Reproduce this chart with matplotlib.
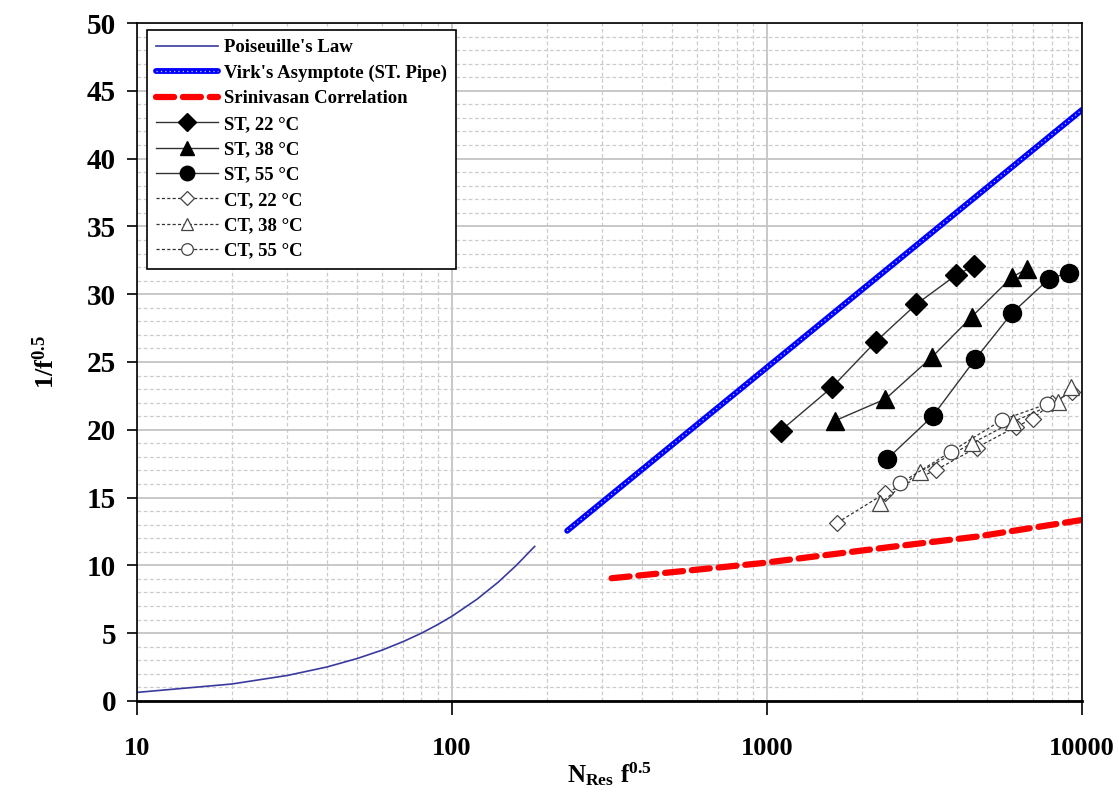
import matplotlib
matplotlib.use("Agg")
import matplotlib.pyplot as plt
from matplotlib.ticker import FixedLocator, NullFormatter, MultipleLocator

plt.rcParams["font.family"] = ["Liberation Serif", "DejaVu Serif"]
plt.rcParams["font.weight"] = "bold"
plt.rcParams["mathtext.fontset"] = "custom"
plt.rcParams["mathtext.rm"] = "Liberation Serif:bold"
plt.rcParams["mathtext.bf"] = "Liberation Serif:bold"
plt.rcParams["mathtext.it"] = "Liberation Serif:bold"

# --- data ---
pois_x = [10, 20, 30, 40, 50, 60, 70, 80, 90, 100, 120, 140, 160, 183]
pois_y = [0.63, 1.25, 1.88, 2.5, 3.13, 3.75, 4.38, 5.0, 5.63, 6.25, 7.5, 8.75, 10.0, 11.4]

virk_x = [232, 10000]
virk_y = [12.55, 43.6]

srin_x = [321, 950, 2512, 4632, 10000]
srin_y = [9.05, 10.15, 11.38, 12.12, 13.35]

st22_x = [1105, 1612, 2213, 2978, 3972, 4540]
st22_y = [19.93, 23.16, 26.5, 29.26, 31.39, 32.08]
st38_x = [1644, 2375, 3348, 4467, 5983, 6674]
st38_y = [20.67, 22.27, 25.39, 28.34, 31.25, 31.86]
st55_x = [2399, 3365, 4578, 5983, 7840, 9075]
st55_y = [17.82, 21.04, 25.2, 28.59, 31.12, 31.59]

ct22_x = [1672, 2369, 3440, 4632, 6150, 6965, 8031, 9296]
ct22_y = [13.15, 15.32, 17.04, 18.69, 20.21, 20.81, 21.98, 22.79]
ct38_x = [2284, 3060, 4466, 6052, 8390, 9228]
ct38_y = [14.58, 16.91, 19.0, 20.6, 22.05, 23.16]
ct55_x = [2643, 3838, 5560, 7743]
ct55_y = [16.04, 18.39, 20.72, 21.9]

fig = plt.figure(figsize=(11.19, 7.96), dpi=100)
ax = fig.add_axes([0.1224, 0.1194, 0.8446, 0.8517])

h_pois, = ax.plot(pois_x, pois_y, color="#3a3a9e", lw=1.2)
v1, = ax.plot(virk_x, virk_y, color="#0000ff", lw=4.2, solid_capstyle="round")
v2, = ax.plot(virk_x, virk_y, color="white", lw=0.9, ls=(0, (1, 2.5)), alpha=0.8)
h_srin, = ax.plot(srin_x, srin_y, color="#ff0000", lw=4.5, dashes=(2.9, 1.4),
                  dash_capstyle="round")

st_kw = dict(color="#333333", lw=1.0, markerfacecolor="black", markeredgecolor="black")
h1, = ax.plot(st22_x, st22_y, marker="D", ms=11, **st_kw)
h2, = ax.plot(st38_x, st38_y, marker="^", ms=13, **st_kw)
h3, = ax.plot(st55_x, st55_y, marker="o", ms=13, **st_kw)

ct_kw = dict(color="#333333", lw=0.9, ls=(0, (2.5, 1.8)), markerfacecolor="white",
             markeredgecolor="#444444", markeredgewidth=0.9)
h4, = ax.plot(ct22_x, ct22_y, marker="D", ms=8.5, **ct_kw)
h5, = ax.plot(ct38_x, ct38_y, marker="^", ms=11, **ct_kw)
h6, = ax.plot(ct55_x, ct55_y, marker="o", ms=10.5, **ct_kw)

ax.set_xscale("log")
ax.set_xlim(10, 10000)
ax.set_ylim(0, 50)
ax.yaxis.set_major_locator(MultipleLocator(5))
ax.yaxis.set_minor_locator(MultipleLocator(1))
ax.xaxis.set_major_locator(FixedLocator([10, 100, 1000, 10000]))
ax.set_xticklabels(["10", "100", "1000", "10000"])
ax.xaxis.set_minor_formatter(NullFormatter())

ax.grid(True, which="major", color="#c4c4c4", lw=1.3, ls="-")
ax.grid(True, which="minor", color="#cccccc", lw=0.9, ls=(0, (3, 2)))
ax.set_axisbelow(True)

ax.tick_params(axis="x", which="major", direction="out", length=10, width=1.2,
               pad=16, labelsize=19)
ax.tick_params(axis="y", which="major", direction="out", length=7, width=1.2,
               pad=8, labelsize=21)
ax.tick_params(which="minor", length=0)
for lab in ax.get_xticklabels() + ax.get_yticklabels():
    lab.set_fontweight("bold")

for side in ["top", "right", "left"]:
    ax.spines[side].set_color("black")
    ax.spines[side].set_linewidth(1.2)
ax.spines["bottom"].set_linewidth(2.0)

ax.set_ylabel(r"$\mathbf{1/f^{0.5}}$", fontsize=19, labelpad=20)
ax.set_xlabel(r"$\mathbf{N_{Res}\ f^{0.5}}$", fontsize=18, labelpad=0)

handles = [h_pois, (v1, v2), h_srin, h1, h2, h3, h4, h5, h6]
labels = ["Poiseuille's Law", "Virk's Asymptote (ST. Pipe)", "Srinivasan Correlation",
          "ST, 22 °C", "ST, 38 °C", "ST, 55 °C", "CT, 22 °C", "CT, 38 °C", "CT, 55 °C"]
leg = ax.legend(handles, labels, loc="upper left", bbox_to_anchor=(0.0106, 0.9897),
                borderaxespad=0, fontsize=13.5, frameon=True, fancybox=False,
                edgecolor="black", framealpha=1, numpoints=1, handlelength=3.3,
                handletextpad=0.3, labelspacing=0.44, borderpad=0.5, markerscale=0.8)
leg.get_frame().set_linewidth(1.2)
for t in leg.get_texts():
    t.set_fontweight("bold")

fig.savefig("out.png", dpi=100)
